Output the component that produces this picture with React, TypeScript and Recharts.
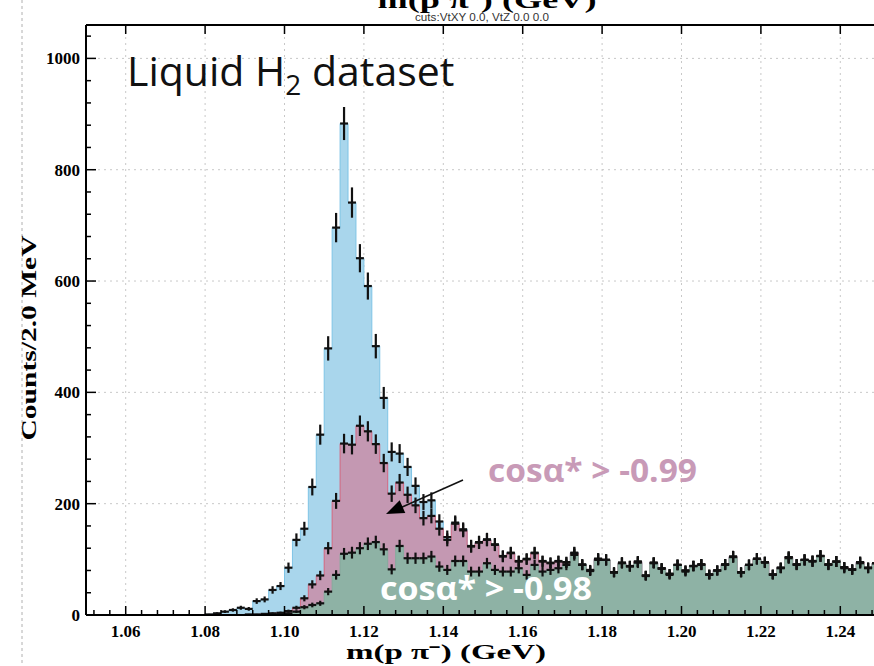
import React from "react";
import {
  ComposedChart, Area, Scatter, ErrorBar, CartesianGrid,
  XAxis, YAxis,
} from "recharts";

// bin centres in GeV (2 MeV bins), first bin 1.079
const firstBin = 1.079;
const binWidth = 0.002;

// all candidates (light blue)
const allCounts = [
  0, 1, 3, 6, 9, 13, 11, 25, 28, 45,
  52, 85, 135, 155, 230, 324, 479, 696, 883, 741,
  641, 591, 483, 390, 293, 290, 266, 232, 203, 206,
  168, 140, 166, 154, 124, 131, 136, 127, 106, 112,
  97, 101, 112, 97, 94, 97, 95, 112, 91, 81,
  101, 99, 77, 94, 88, 96, 71, 94, 84, 74,
  90, 80, 88, 91, 73, 80, 91, 105, 77, 90,
  101, 95, 73, 85, 104, 91, 99, 97, 106, 91,
  96, 86, 82, 95, 85, 93,
];

// cos(alpha*) > -0.99 (pink)
const cut099Counts = [
  0, 0, 0, 0, 0, 0, 1, 1, 2, 3,
  4, 7, 13, 30, 55, 71, 120, 205, 308, 306,
  340, 330, 307, 273, 218, 238, 216, 197, 174, 178,
  155, 135, 164, 152, 123, 130, 135, 126, 105, 111,
  96, 100, 111, 96, 93, 96, 94, 111, 90, 80,
  101, 99, 77, 94, 88, 96, 71, 94, 84, 74,
  90, 80, 88, 91, 73, 80, 91, 105, 77, 90,
  101, 95, 73, 85, 104, 91, 99, 97, 106, 91,
  96, 86, 82, 95, 85, 93,
];

// cos(alpha*) > -0.98 (green)
const cut098Counts = [
  0, 0, 0, 0, 0, 0, 0, 0, 0, 1,
  2, 3, 6, 14, 18, 21, 42, 72, 110, 112,
  120, 128, 131, 118, 82, 124, 102, 102, 102, 105,
  87, 81, 97, 97, 78, 78, 93, 81, 78, 78,
  84, 72, 90, 78, 81, 84, 90, 108, 90, 79,
  99, 99, 76, 93, 87, 94, 70, 93, 83, 72,
  90, 78, 88, 90, 72, 80, 90, 104, 76, 90,
  101, 94, 72, 84, 102, 90, 99, 96, 106, 90,
  96, 84, 81, 93, 84, 93,
];

const xMajor = [1.06, 1.08, 1.10, 1.12, 1.14, 1.16, 1.18, 1.20, 1.22, 1.24];
const yMajor = [200, 400, 600, 800, 1000];
const yTop = 1060;

const rows = allCounts.map((n, i) => ({
  m: +(firstBin + binWidth * i).toFixed(3),
  all: n,
  pink: cut099Counts[i],
  green: cut098Counts[i],
}));

const crosses = (key: "all" | "pink" | "green") =>
  rows
    .filter(r => r[key] > 0)
    .map(r => ({ m: r.m, v: r[key], ye: Math.sqrt(r[key]), xe: binWidth / 2 }));

// minor ticks every 4 MeV / 40 counts
const xTicks = Array.from({ length: 50 }, (_, i) => (1052 + 4 * i) / 1000);
const yTicks = Array.from({ length: 27 }, (_, i) => i * 40);

const serif = "'Liberation Serif', 'Times New Roman', serif";
const sans = "'Open Sans', 'Noto Sans', sans-serif";

const XTick = (props: any) => {
  const { x, y, payload } = props;
  const major = Math.round(payload.value * 1000) % 20 === 0;
  return (
    <g>
      <line x1={x} x2={x} y1={y} y2={y - (major ? 9 : 5)} stroke="#000" strokeWidth={1.5} />
      {major && (
        <text x={x} y={y + 22} textAnchor="middle" fontFamily={serif} fontWeight="bold" fontSize={17} fill="#000">
          {payload.value.toFixed(2)}
        </text>
      )}
    </g>
  );
};

const TopTick = (props: any) => {
  const { x, y, payload } = props;
  const major = Math.round(payload.value * 1000) % 20 === 0;
  if (!major) return <g />;
  return <line x1={x} x2={x} y1={y} y2={y + 9} stroke="#000" strokeWidth={1.5} />;
};

const YTick = (props: any) => {
  const { x, y, payload } = props;
  const major = payload.value % 200 === 0;
  return (
    <g>
      <line x1={x} x2={x + (major ? 10 : 5)} y1={y} y2={y} stroke="#000" strokeWidth={1.5} />
      {major && (
        <text x={x - 6} y={y} dy="0.35em" textAnchor="end" fontFamily={serif} fontWeight="bold" fontSize={17} fill="#000">
          {payload.value}
        </text>
      )}
    </g>
  );
};

const noDot = () => <g />;

export default function App() {
  return (
    <div style={{ position: "absolute", left: 0, top: 0, width: 874, height: 666, overflow: "hidden", background: "#fff" }}>
      <ComposedChart width={880} height={666} data={rows} margin={{ top: 24, right: 0, bottom: 0, left: 0 }}>
        <CartesianGrid
          horizontalValues={yMajor}
          verticalValues={xMajor}
          stroke="#c8c8c8"
          strokeDasharray="2 4"
        />

        <Area dataKey="all" type="step" fill="#a9d6ec" stroke="#7fc4e6" strokeWidth={1} fillOpacity={1} isAnimationActive={false} />
        <Area dataKey="pink" type="step" fill="#c498b2" stroke="#d5667f" strokeWidth={1} fillOpacity={1} isAnimationActive={false} />
        <Area dataKey="green" type="step" fill="#8eb2a5" stroke="#86ab9d" strokeWidth={1} fillOpacity={1} isAnimationActive={false} />

        {(["all", "pink", "green"] as const).map(k => (
          <Scatter key={k} data={crosses(k)} dataKey="v" shape={noDot} isAnimationActive={false}>
            <ErrorBar dataKey="ye" direction="y" width={0} stroke="#111" strokeWidth={2.2} isAnimationActive={false} />
            <ErrorBar dataKey="xe" direction="x" width={0} stroke="#111" strokeWidth={2.2} isAnimationActive={false} />
          </Scatter>
        ))}

        <XAxis
          dataKey="m" type="number" domain={[1.05, 1.25]} allowDataOverflow
          ticks={xTicks} interval={0} tick={<XTick />} tickLine={false} tickSize={0} tickMargin={0}
          height={51} axisLine={{ stroke: "#000", strokeWidth: 2 }}
        />
        <XAxis
          xAxisId="top" orientation="top" dataKey="m" type="number" domain={[1.05, 1.25]} allowDataOverflow
          ticks={xTicks} interval={0} tick={<TopTick />} tickLine={false} tickSize={0} tickMargin={0}
          height={1} axisLine={{ stroke: "#000", strokeWidth: 2 }}
        />
        <YAxis
          type="number" domain={[0, yTop]} allowDataOverflow
          ticks={yTicks} interval={0} tick={<YTick />} tickLine={false} tickSize={0} tickMargin={0}
          width={86} axisLine={{ stroke: "#000", strokeWidth: 2 }}
        />
      </ComposedChart>

      <svg width={874} height={666} style={{ position: "absolute", left: 0, top: 0, pointerEvents: "none" }}>
        <line x1={22} x2={22} y1={0} y2={666} stroke="#b0b0b0" strokeDasharray="3 3" />
        <text x={487} y={8} textAnchor="middle" fontFamily={serif} fontWeight="bold" fontSize={24} textLength={219} lengthAdjust="spacingAndGlyphs">
          m(p π⁻) (GeV)
        </text>
        <text x={415} y={21} fontFamily="'Liberation Sans Narrow', 'Liberation Sans', sans-serif" fontSize={11} fill="#333" textLength={134} lengthAdjust="spacingAndGlyphs">
          cuts:VtXY 0.0, VtZ 0.0  0.0
        </text>
        <text x={446} y={659} textAnchor="middle" fontFamily={serif} fontWeight="bold" fontSize={20} textLength={200} lengthAdjust="spacingAndGlyphs">
          m(p π⁻) (GeV)
        </text>
        <text x={0} y={0} transform="translate(36,338) rotate(-90)" textAnchor="middle" fontFamily={serif} fontWeight="bold" fontSize={20} textLength={205} lengthAdjust="spacingAndGlyphs">
          Counts/2.0 MeV
        </text>

        <text x={127} y={86} fontFamily={sans} fontSize={41} fill="#111">
          Liquid H<tspan fontSize={28} dy={9}>2</tspan><tspan dy={-9}> dataset</tspan>
        </text>
        <text x={488} y={482} fontFamily={sans} fontWeight="bold" fontSize={33} fill="#c89ab7" textLength={209} lengthAdjust="spacingAndGlyphs">
          cosα* &gt; -0.99
        </text>
        <text x={380} y={600} fontFamily={sans} fontWeight="bold" fontSize={33} fill="#ffffff" textLength={212} lengthAdjust="spacingAndGlyphs">
          cosα* &gt; -0.98
        </text>
        <line x1={463} y1={480} x2={400} y2={508} stroke="#111" strokeWidth={1.5} />
        <polygon points="386,514 405.3,513.1 399.7,500.3" fill="#000" />
      </svg>
    </div>
  );
}
